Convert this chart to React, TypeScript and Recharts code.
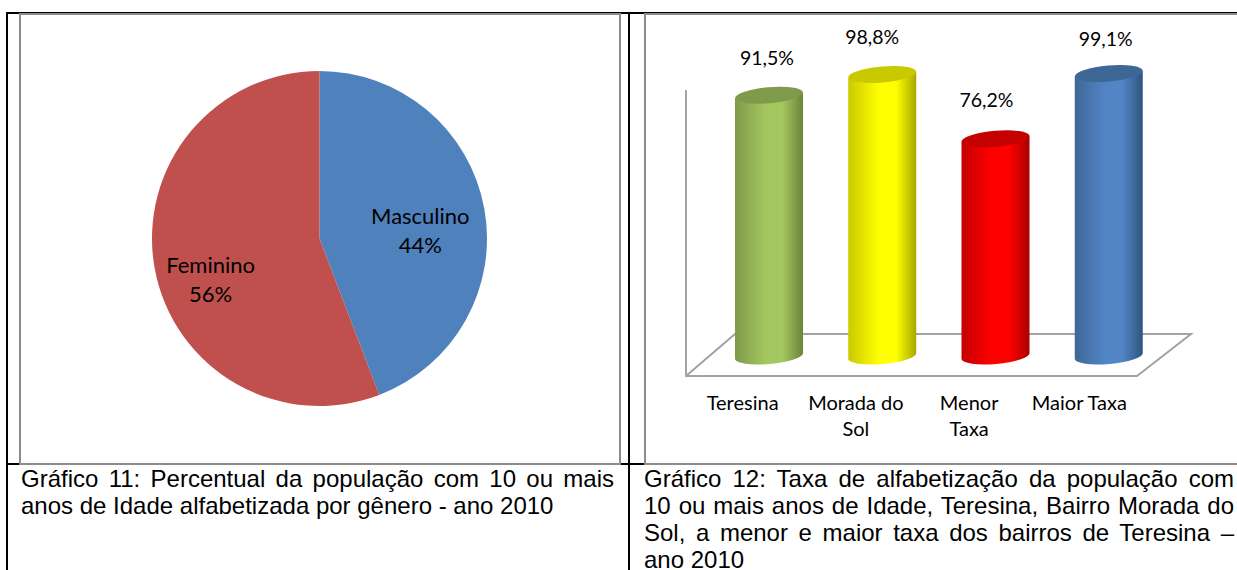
import { Bar, BarChart, Cell, Pie, PieChart, XAxis, YAxis, usePlotArea } from "recharts";

const genders = ["Masculino", "Feminino"];
const genderShares = [44.2, 55.8];
const genderColors = ["#4f81bd", "#c0504d"];

const places = ["Teresina", "Morada do Sol", "Menor Taxa", "Maior Taxa"];
const literacy = [91.5, 98.8, 76.2, 99.1];
const placeLines = [["Teresina"], ["Morada do", "Sol"], ["Menor", "Taxa"], ["Maior Taxa"]];
// side, base, middle
const barShades = [
  ["#6b8439", "#7f9a4a", "#a4c75f"],
  ["#a8a800", "#c9c900", "#ffff00"],
  ["#a80000", "#c40000", "#ff0000"],
  ["#2f5580", "#3f6796", "#5285c6"],
];

const pieRows = genders.map((name, i) => ({ name, value: genderShares[i] }));
const barRows = places.map((name, i) => ({ name, value: literacy[i] }));

const chartFont = "Lato, Carlito, sans-serif";
const frame = "2px solid #8c8c8c";

// manual nudges, the labels were dragged by hand in the original
const pieNudge = [
  { x: 2, y: 12 },
  { x: -10, y: 24 },
];
const valueNudge = [-2, -10, -9, -3];
const valueRise = [37, 37, 39, 35];
const tickNudge = [-26, -26, -26, -29];

function PieLabel(props: any) {
  const { cx, cy, midAngle, outerRadius, index, name, value } = props;
  const a = (-midAngle * Math.PI) / 180;
  const x = cx + outerRadius * 0.6 * Math.cos(a) + pieNudge[index].x;
  const y = cy + outerRadius * 0.6 * Math.sin(a) + pieNudge[index].y;
  return (
    <text x={x} y={y} textAnchor="middle" fontFamily={chartFont} fontSize={22} fill="#000">
      <tspan x={x} dy={-8}>{name}</tspan>
      <tspan x={x} dy={29}>{Math.round(value)}%</tspan>
    </text>
  );
}

function Cylinder(props: any) {
  const { x, y, width, height, index } = props;
  const tilt = 3;
  const rx = width / 2;
  const ry = 8;
  const bottom = y + height;
  const body =
    `M${x},${y + tilt} L${x},${bottom + tilt} ` +
    `A${rx},${ry} -5 0 0 ${x + width},${bottom - tilt} ` +
    `L${x + width},${y - tilt} Z`;
  return (
    <g>
      <path d={body} fill={`url(#cyl${index})`} />
      <ellipse
        cx={x + rx}
        cy={y}
        rx={rx}
        ry={ry}
        transform={`rotate(-5 ${x + rx} ${y})`}
        fill={barShades[index][1]}
      />
    </g>
  );
}

function ValueLabel(props: any) {
  const { x, y, width, index, value } = props;
  return (
    <text
      x={x + width / 2 + valueNudge[index]}
      y={y - valueRise[index] + 7}
      textAnchor="middle"
      fontFamily={chartFont}
      fontSize={19.5}
      fill="#000"
    >
      {String(value).replace(".", ",")}%
    </text>
  );
}

function PlaceTick(props: any) {
  const { x, y, index } = props;
  return (
    <text textAnchor="middle" fontFamily={chartFont} fontSize={20} fill="#000">
      {placeLines[index].map((line, i) => (
        <tspan key={line} x={x + tickNudge[index]} y={y + 54 + i * 26}>{line}</tspan>
      ))}
    </text>
  );
}

// the floor and the wall of the 3D plot
function Floor() {
  const plot = usePlotArea();
  if (!plot) return null;
  const bottom = plot.y + plot.height;
  const left = plot.x - 26;
  const right = plot.x + plot.width + 26;
  return (
    <g fill="none" stroke="#a3a3a3" strokeWidth={2}>
      <polyline
        points={`${left},${plot.y + 19} ${left},${bottom + 20} ${right - 54},${bottom + 20} ${right},${bottom - 22} ${left + 49},${bottom - 22} ${left},${bottom + 20}`}
      />
    </g>
  );
}

const rule = (left: number, top: number, width: number, height: number) => (
  <div style={{ position: "absolute", left, top, width, height, background: "#000" }} />
);

const captionStyle = {
  position: "absolute",
  top: 465,
  fontFamily: "'Liberation Sans', Arial, sans-serif",
  fontSize: 24,
  lineHeight: "27px",
  textAlign: "justify",
  color: "#000",
  margin: 0,
} as const;

export default function App() {
  return (
    <div style={{ position: "absolute", left: 0, top: 0, width: 1237, height: 570, overflow: "hidden", background: "#fff" }}>
      {rule(6, 12, 1231, 2)}
      {rule(6, 12, 2, 558)}
      {rule(628, 12, 2, 558)}
      {rule(6, 463, 1231, 2)}

      <div style={{ position: "absolute", left: 19, top: 13, width: 598, height: 448, border: frame, background: "#fff" }}>
        <PieChart width={598} height={448} margin={{ top: 0, right: 0, bottom: 0, left: 0 }}>
          <Pie
            data={pieRows}
            dataKey="value"
            nameKey="name"
            cx={298.5}
            cy={223.5}
            outerRadius={167.5}
            startAngle={90}
            endAngle={-270}
            stroke="none"
            label={PieLabel}
            labelLine={false}
            isAnimationActive={false}
          >
            {pieRows.map((row, i) => (
              <Cell key={row.name} fill={genderColors[i]} />
            ))}
          </Pie>
        </PieChart>
      </div>

      <div style={{ position: "absolute", left: 644, top: 13, width: 591, height: 448, border: frame, background: "#fff" }}>
        <svg width={0} height={0} style={{ position: "absolute" }}>
          <defs>
            {barShades.map((shade, i) => (
              <linearGradient key={i} id={`cyl${i}`} x1="0" x2="1" y1="0" y2="0">
                <stop offset="0" stopColor={shade[1]} />
                <stop offset="0.45" stopColor={shade[2]} />
                <stop offset="0.7" stopColor={shade[2]} />
                <stop offset="1" stopColor={shade[0]} />
              </linearGradient>
            ))}
          </defs>
        </svg>
        <BarChart
          width={591}
          height={448}
          data={barRows}
          margin={{ top: 56, right: 72, bottom: 8, left: 66 }}
        >
          <YAxis hide domain={[0, 100]} />
          <XAxis
            dataKey="name"
            height={99}
            axisLine={false}
            tickLine={false}
            tickSize={0}
            tickMargin={0}
            interval={0}
            tick={PlaceTick}
          />
          <Floor />
          <Bar
            dataKey="value"
            barSize={68}
            shape={Cylinder}
            label={ValueLabel}
            isAnimationActive={false}
          />
        </BarChart>
      </div>

      <p style={{ ...captionStyle, left: 21, width: 593 }}>
        Gráfico 11: Percentual da população com 10 ou mais anos de Idade alfabetizada por gênero - ano 2010
      </p>
      <p style={{ ...captionStyle, left: 644, width: 590 }}>
        Gráfico 12: Taxa de alfabetização da população com 10 ou mais anos de Idade, Teresina, Bairro Morada do Sol, a menor e maior taxa dos bairros de Teresina – ano 2010
      </p>
    </div>
  );
}
